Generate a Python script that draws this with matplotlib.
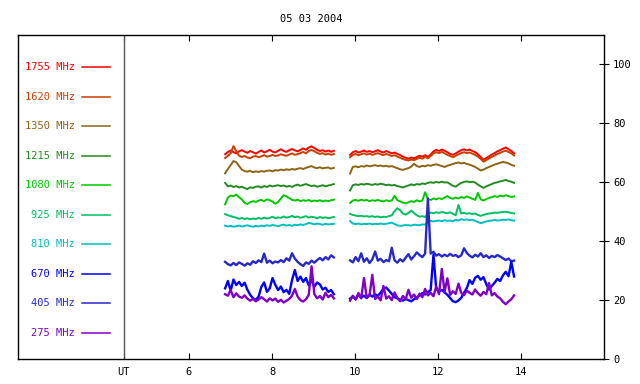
import numpy as np
import matplotlib
matplotlib.use("Agg")
import matplotlib.pyplot as plt

title = "05 03 2004"

# observation windows (UT hours)
seg1_start, seg1_end = 6.87, 9.49
seg2_start, seg2_end = 9.88, 13.83

labels = ["1755 MHz", "1620 MHz", "1350 MHz", "1215 MHz", "1080 MHz",
          "925 MHz", "810 MHz", "670 MHz", "405 MHz", "275 MHz"]
colors = ["#ff0000", "#c84000", "#8c6414", "#228b22", "#00c800",
          "#00c060", "#00c0c0", "#0000ff", "#2828c8", "#8000c8"]
legend_y = [99, 89, 79, 69, 59, 49, 39, 29, 19, 9]

f1755_a = [69.5, 70.3, 70.8, 70.2, 69.8, 70.5, 70.9, 70.4, 70.0, 70.6, 70.2, 69.7, 70.3, 70.8,
           70.1, 70.5, 71.0, 70.4, 70.1, 70.7, 71.2, 70.6, 70.3, 70.9, 71.3, 70.8, 70.5, 71.0,
           71.5, 71.0, 71.8, 72.2, 71.6, 71.0, 70.6, 70.9, 70.4, 70.8, 70.3, 70.7]
f1755_b = [69.3, 70.2, 70.6, 70.1, 70.4, 70.8, 70.3, 70.6, 70.2, 70.5, 70.9, 70.4, 70.1, 70.6,
           70.2, 69.8, 70.1, 69.6, 69.2, 68.7, 68.3, 68.0, 68.4, 68.1, 68.6, 69.0, 68.7, 69.2,
           68.6, 69.4, 70.5, 71.0, 70.6, 71.1, 70.7, 70.2, 69.6, 69.3, 69.8, 70.4, 70.9, 71.2,
           70.8, 71.1, 70.6, 70.2, 69.5, 68.6, 67.6, 68.2, 68.8, 69.4, 69.9, 70.5, 70.9, 71.4,
           71.8, 71.2, 70.6, 69.8]

f1620_a = [68.2, 69.0, 69.8, 72.3, 70.5, 69.0, 68.6, 68.9, 68.4, 68.2, 68.7, 68.9, 68.5, 68.8,
           69.2, 68.7, 68.9, 69.3, 68.9, 69.1, 69.5, 69.2, 69.0, 69.4, 69.8, 69.3, 69.6, 69.9,
           70.3, 69.8, 70.6, 71.0, 70.5, 70.0, 69.6, 69.9, 69.4, 69.7, 69.3, 69.6]
f1620_b = [68.5, 69.3, 69.6, 69.2, 69.5, 69.8, 69.4, 69.7, 69.3, 69.6, 69.9, 69.5, 69.2, 69.6,
           69.3, 68.9, 69.2, 68.7, 68.3, 67.9, 67.6, 67.4, 67.7, 67.5, 67.9, 68.3, 68.0, 68.6,
           68.1, 68.9, 69.8, 70.2, 69.9, 70.3, 69.8, 69.3, 68.9, 68.5, 69.0, 69.5, 69.9, 70.2,
           69.9, 70.1, 69.7, 69.3, 68.7, 67.9, 67.0, 67.5, 68.1, 68.6, 69.1, 69.6, 70.0, 70.4,
           70.7, 70.3, 69.8, 69.1]

f1350_a = [63.0, 64.5, 65.8, 67.2, 66.8, 65.5, 64.3, 63.8, 63.6, 63.9, 63.4, 63.7, 63.5, 63.8,
           63.6, 63.9, 64.0, 63.7, 64.1, 64.0, 64.3, 64.1, 64.4, 64.2, 64.5, 64.3, 64.6, 64.8,
           64.5, 64.9, 65.2, 65.5, 65.0, 64.8, 65.1, 64.7, 64.9, 65.0, 64.6, 64.9]
f1350_b = [63.0, 65.2, 65.4, 65.1, 65.5, 65.3, 65.7, 65.4, 65.6, 65.8, 65.5, 65.7, 65.4, 65.6,
           65.3, 65.5, 65.1, 64.8, 64.4, 64.2, 64.5, 64.8, 65.3, 66.3, 65.5, 65.2, 65.6, 65.4,
           65.8, 65.6, 65.9, 66.1, 65.8, 65.5, 65.2, 65.6, 65.9, 66.2, 66.5, 66.7, 66.4, 66.6,
           66.2, 66.0, 65.6, 65.2, 64.6, 64.0, 64.3, 64.8, 65.2, 65.6, 66.0, 66.3, 66.6, 66.9,
           66.7, 66.4, 65.9, 65.6]

f1215_a = [59.8, 58.6, 58.9, 58.4, 58.7, 58.2, 58.5, 58.0, 57.7, 58.3, 58.1, 58.5, 58.6, 58.2,
           58.7, 58.4, 58.9, 58.6, 58.8, 59.0, 58.7, 58.9, 58.5, 58.8, 58.4, 58.9, 59.2, 58.8,
           59.1, 59.4, 59.0, 58.7, 58.9, 58.5, 58.7, 59.0, 58.6, 58.9, 59.1, 59.4]
f1215_b = [57.2, 59.0, 59.3, 59.1, 59.4, 59.2, 59.5, 59.3, 59.1, 59.4, 59.2, 59.5, 59.3, 59.0,
           59.2, 58.9, 59.1, 58.7, 58.5, 58.2, 58.6, 58.9, 59.3, 59.0, 59.4, 59.2, 59.6, 59.4,
           59.8, 60.0, 59.8, 60.1, 59.9, 60.2, 59.9, 60.0, 59.4, 58.8, 58.5, 59.2, 59.8, 60.1,
           60.3, 60.0, 60.2, 59.9, 59.2, 58.6, 58.1, 58.6, 59.0, 59.4, 59.8, 60.0, 60.3, 60.5,
           60.8, 60.4, 60.2, 59.8]

f1080_a = [52.5, 54.8, 55.5, 55.3, 55.8, 54.9, 54.2, 53.0, 52.6, 53.2, 53.6, 53.3, 53.8, 54.0,
           53.6, 54.2, 53.9, 53.4, 52.7, 53.3, 54.5, 55.6, 55.2, 54.6, 54.0, 53.8, 54.1, 53.6,
           53.9, 53.7, 54.0, 53.5, 53.8, 53.6, 53.9, 53.5, 53.8, 53.6, 53.9, 54.1]
f1080_b = [53.0, 53.8, 54.0, 53.7, 54.1, 53.8, 54.0, 53.6, 53.9, 53.7, 54.0, 53.7, 53.5, 53.9,
           53.6, 53.8, 55.4, 53.9, 53.5, 53.1, 52.8, 53.2, 53.6, 53.3, 53.9, 53.5, 53.8, 56.6,
           54.3, 54.0, 54.5, 54.2, 54.6, 54.3, 54.8, 55.3, 54.7, 54.4, 54.8, 54.5, 55.0, 54.7,
           55.2, 54.8, 54.4, 54.0, 56.4, 54.2, 53.8, 54.3, 54.7, 54.9, 55.3, 55.0, 55.5, 55.2,
           55.6, 55.3, 55.0, 55.2]

f925_a = [49.2, 48.8, 48.5, 48.2, 48.0, 47.6, 47.9, 47.5, 47.8, 47.4, 47.7, 47.5, 47.9, 47.6,
          48.0, 47.7, 47.9, 48.3, 47.8, 48.1, 47.9, 48.4, 48.0, 48.2, 48.6, 48.1, 48.4, 47.9,
          48.2, 48.5, 48.0, 48.3, 48.1, 47.8, 48.2, 47.9, 48.1, 47.8, 48.0, 48.2]
f925_b = [49.3, 48.9, 48.7, 48.5, 48.6, 48.4, 48.5, 48.3, 48.5, 48.2, 48.4, 48.1, 48.3, 48.2,
          48.5, 48.8, 50.2, 51.2, 50.5, 49.4, 49.0, 49.6, 50.4, 49.5, 48.8, 48.3, 48.5, 48.2,
          49.3, 49.7, 49.5, 49.8, 49.6, 49.9, 49.7, 49.5, 49.8, 49.3, 48.8, 52.3, 49.4, 49.6,
          49.3, 49.5, 49.2, 49.4, 48.9, 48.6, 48.9, 49.2, 49.4, 49.5, 49.7, 49.6, 49.8, 49.9,
          50.0, 49.8, 49.6, 49.4]

f810_a = [45.3, 45.0, 45.2, 44.9, 45.1, 45.3, 45.0, 45.2, 45.4, 45.1, 44.9, 45.2, 45.0, 45.3,
          45.1, 45.4, 45.2, 45.5, 45.3, 45.1, 45.4, 45.6, 45.3, 45.5, 45.2, 45.6, 45.4, 45.7,
          45.5, 45.8, 46.2, 46.0, 45.7, 46.0, 45.8, 45.6, 45.9, 45.7, 45.8, 45.9]
f810_b = [46.8, 46.0, 45.8, 46.0, 45.7, 45.9, 45.8, 46.0, 45.7, 45.9, 45.8, 46.0, 45.8, 45.9,
          46.1, 46.3, 45.8, 45.4, 45.2, 45.3, 45.5, 45.4, 45.3, 45.6, 45.5, 45.4, 45.7, 45.6,
          46.8, 46.9, 46.7, 46.9, 47.0, 46.8, 47.1, 46.9, 47.0, 46.7, 47.3, 47.0, 47.5, 47.2,
          47.4, 47.1, 47.3, 46.9, 46.5, 46.1, 46.4, 46.7, 46.9, 47.0, 47.2, 47.0, 47.1, 47.3,
          47.2, 47.4, 47.1, 47.0]

f670_a = [24.0, 26.5, 23.2, 27.0, 25.1, 26.2, 24.8, 25.9, 23.5, 21.8, 20.6, 20.1, 21.2, 24.5,
          26.0, 22.8, 24.0, 27.5, 25.2, 23.4, 24.6, 22.7, 23.5, 22.1, 26.8, 30.2, 26.5, 28.0,
          26.2, 27.5, 25.0, 26.8, 24.5, 26.0, 25.3, 23.6, 24.2, 22.8, 23.4, 22.0]
f670_b = [20.5, 21.2, 20.3, 21.8, 20.9, 21.5, 20.7, 21.9, 21.2, 22.0, 21.4, 22.6, 23.8, 24.3,
          23.2, 22.1, 21.0, 20.6, 20.2, 19.8, 20.4, 20.0, 19.6, 20.3, 20.8, 21.6, 22.4, 21.9,
          22.7, 23.4, 35.4, 23.8, 22.9, 23.5, 22.6, 21.8, 20.7, 19.6, 19.3, 19.9, 20.8, 22.5,
          24.1, 26.8, 25.5, 27.6, 28.2, 26.9, 27.8, 25.4, 23.6, 24.8, 25.9, 27.2, 26.5, 28.4,
          29.6, 28.1, 33.0, 28.0]

f405_a = [33.0, 32.2, 31.8, 32.6, 31.9, 32.8, 32.3, 31.7, 32.5, 32.0, 33.2, 32.6, 33.5, 32.9,
          35.8, 32.7, 33.4, 32.5, 33.1, 32.8, 33.6, 32.9, 34.2, 33.4, 35.9, 34.1, 33.0, 32.2,
          31.6, 32.8, 32.3, 33.4, 32.7, 33.6, 34.3, 33.5, 34.6, 33.8, 35.2, 34.5]
f405_b = [33.5, 32.8, 34.6, 33.2, 35.9, 33.0, 34.2, 32.6, 33.8, 36.5, 33.4, 34.0, 32.9, 33.6,
          33.2, 37.8, 33.5, 32.7, 33.9, 33.1, 34.4, 35.6, 33.8, 34.9, 36.2, 35.3, 34.6, 35.8,
          54.5, 35.8, 36.4, 35.1, 35.6, 34.8, 35.4, 34.9, 35.7, 35.0, 35.3, 34.6, 35.2, 37.6,
          36.0, 35.1, 34.5, 35.4, 34.8, 35.9, 34.6, 35.2, 34.3, 35.0, 34.6, 35.3, 34.8, 34.2,
          33.6, 34.1, 33.2, 33.4]

f275_a = [22.0, 21.5, 23.4, 21.0, 22.3, 21.2, 20.8, 21.6, 20.5, 19.8, 20.4, 19.6, 20.2, 21.0,
          20.3, 19.5, 20.6, 19.9, 20.5, 19.4, 20.1, 19.2, 19.8, 20.4, 21.5, 23.8, 21.2, 20.0,
          19.5, 20.3, 21.8, 31.5, 22.0, 20.6, 21.4, 20.2, 22.5, 21.0, 21.8, 20.6]
f275_b = [19.8, 21.5, 20.2, 22.4, 20.6, 27.5, 20.8, 21.6, 28.6, 20.4, 21.2, 19.9, 24.8, 20.5,
          21.3, 20.0, 22.6, 20.7, 19.6, 21.4, 20.3, 23.5, 20.8, 21.9, 20.4, 22.2, 21.0, 23.8,
          21.6, 22.5, 21.3, 24.6, 22.0, 30.6, 22.8, 27.4, 21.8, 23.0, 22.1, 25.6, 22.4, 21.7,
          23.2, 22.5, 21.9, 23.6, 22.3, 21.5, 22.8, 22.0, 25.8, 21.6, 22.4, 21.2, 20.6, 19.4,
          18.6, 19.5, 20.3, 21.6]

series = [(f1755_a, f1755_b), (f1620_a, f1620_b), (f1350_a, f1350_b), (f1215_a, f1215_b),
          (f1080_a, f1080_b), (f925_a, f925_b), (f810_a, f810_b), (f670_a, f670_b),
          (f405_a, f405_b), (f275_a, f275_b)]

xtick_pos = [4.43, 6, 8, 10, 12, 14]
xtick_lab = ["UT", "6", "8", "10", "12", "14"]
ytick_pos = [0, 20, 40, 60, 80, 100]

font = "DejaVu Sans Mono"
fs = 7.5

fig = plt.figure(figsize=(6.4, 3.84), dpi=100)
ax = fig.add_axes([0.028, 0.065, 0.916, 0.844])

# draw low-frequency traces last so they sit on top, like the original
order = [0, 1, 2, 3, 4, 5, 6, 8, 7, 9]
for i in order:
    a, b = series[i]
    lw = 1.7 if i >= 7 else 1.4
    ax.plot(np.linspace(seg1_start, seg1_end, len(a)), a, color=colors[i], lw=lw)
    ax.plot(np.linspace(seg2_start, seg2_end, len(b)), b, color=colors[i], lw=lw)

# legend drawn inside the left panel
for lab, c, y in zip(labels, colors, legend_y):
    ax.text(3.25, y, lab, color=c, ha="right", va="center", fontsize=fs, family=font)
    ax.plot([3.42, 4.1], [y, y], color=c, lw=1.1)

ax.axvline(4.43, color="#555555", lw=1)

ax.set_xlim(1.88, 16.0)
ax.set_ylim(0, 110)

ax.set_xticks(xtick_pos)
ax.set_xticklabels(xtick_lab, fontsize=fs, family=font)
ax.tick_params(axis="x", direction="in", length=4, top=True, bottom=True, pad=6)

ax.yaxis.tick_right()
ax.set_yticks(ytick_pos)
ax.set_yticklabels([str(v) for v in ytick_pos], fontsize=fs, family=font)
ax.tick_params(axis="y", direction="inout", length=7, pad=3)

for s in ax.spines.values():
    s.set_linewidth(1)
    s.set_color("black")

ax.set_title(title, fontsize=fs, family=font, pad=9)

fig.savefig("out.png", dpi=100)
